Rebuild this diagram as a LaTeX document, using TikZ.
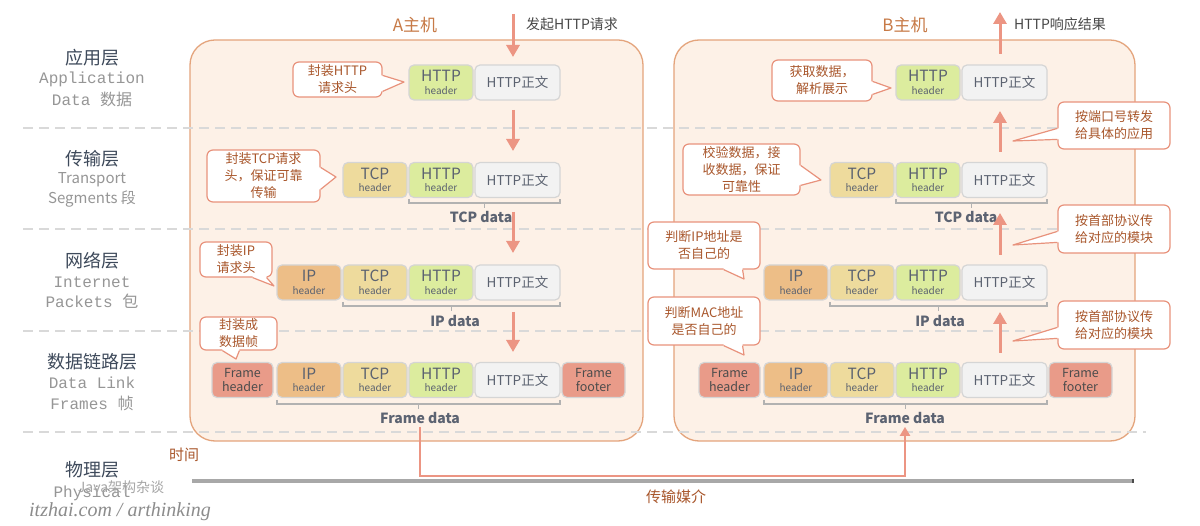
\documentclass[tikz,border=0pt]{standalone}
\usepackage{fontspec}
\setmainfont{Noto Sans CJK SC}
\newfontfamily\monof{Liberation Mono}
\newfontfamily\handf{Liberation Serif}
\usetikzlibrary{arrows.meta,calc}
\definecolor{hostfill}{HTML}{FDF1E7}
\definecolor{hostline}{HTML}{E4A47C}
\definecolor{sepgray}{HTML}{D9D9D9}
\definecolor{arrowc}{HTML}{EC9583}
\definecolor{calline}{HTML}{E8927C}
\definecolor{caltext}{HTML}{A9572C}
\definecolor{httpc}{HTML}{DCEC9E}
\definecolor{tcpc}{HTML}{EEDB9D}
\definecolor{ipc}{HTML}{EDBE87}
\definecolor{framec}{HTML}{E99B89}
\definecolor{bodyc}{HTML}{F2F2F2}
\definecolor{blkline}{HTML}{D5D5D5}
\definecolor{blktext}{HTML}{5B6270}
\definecolor{titlec}{HTML}{C77A47}
\definecolor{layerc}{HTML}{3E4A5B}
\definecolor{engc}{HTML}{969696}
\definecolor{labelc}{HTML}{4A5262}
\definecolor{barc}{HTML}{A8A8A8}
\newcommand\hb[1]{#1\\[-3pt]{\fontsize{10}{10}\selectfont header}}
\newcommand\ptr[5]{%
  \fill[white] ($(#1)+#2+#4$) -- ($(#1)+#2$) -- (#5) -- ($(#1)+#3$) -- ($(#1)+#3+#4$) -- cycle;
  \draw[calline,line width=1.2,line join=round] ($(#1)+#2$) -- (#5) -- ($(#1)+#3$);}
\begin{document}
\begin{tikzpicture}[x=1pt,y=-1pt,
  host/.style={draw=hostline,fill=hostfill,line width=1.3,rounded corners=25,inner sep=0},
  sep/.style={draw=sepgray,line width=2.5,dash pattern=on 10pt off 6pt},
  blk/.style={draw=blkline,line width=1.2,rounded corners=5,minimum height=35,inner sep=0,align=center,text=blktext,font=\fontsize{15.5}{15.5}\selectfont},
  body/.style={blk,fill=bodyc,minimum width=85,font=\fontsize{13.5}{13.5}\selectfont},
  frm/.style={blk,fill=framec,text=black!70,font=\fontsize{12.5}{14.5}\selectfont},
  call/.style={draw=calline,fill=white,line width=1.2,rounded corners=6,align=center,text=caltext,font=\fontsize{13}{17}\selectfont,inner sep=0},
  arr/.style={draw=arrowc,line width=3,-{Triangle[width=13pt,length=12pt]}},
  brc/.style={draw=black!30,line width=1.6},
  dlab/.style={font=\bfseries\fontsize{14}{14}\selectfont,text=labelc!90,inner sep=1},
  lay/.style={font=\fontsize{18}{18}\selectfont,text=layerc},
  engm/.style={font=\monof\fontsize{16}{16}\selectfont,text=engc},
  engs/.style={font=\fontsize{15}{15}\selectfont,text=engc},
  ttl/.style={font=\fontsize{17}{17}\selectfont,text=titlec},
  top/.style={font=\fontsize{14}{14}\selectfont,text=black!72}]
\useasboundingbox (0,0) rectangle (1200,526);
\fill[white] (0,0) rectangle (1200,526);

% hosts
\node[host,minimum width=453,minimum height=401] (hostA) at (416.5,240.5) {};
\node[host,minimum width=461,minimum height=401] (hostB) at (904.5,240.5) {};

% layer separators
\foreach \yy in {128,229,331,432} \draw[sep] (23,\yy) -- (1146,\yy);

% layer labels
\node[lay] (l1) at (92,58) {应用层};
\node[engm] (l1a) at (92,79) {Application};
\node[engm] (l1b) at (92,99) {Data {\rmfamily 数据}};
\node[lay] (l2) at (92,159) {传输层};
\node[engs] (l2a) at (92,180) {Transport};
\node[engs] (l2b) at (92,199) {Segments 段};
\node[lay] (l3) at (92,261) {网络层};
\node[engm] (l3a) at (92,282) {Internet};
\node[engm] (l3b) at (92,301) {Packets {\rmfamily 包}};
\node[lay] (l4) at (92,362) {数据链路层};
\node[engm] (l4a) at (92,383) {Data Link};
\node[engm] (l4b) at (92,403) {Frames {\rmfamily 帧}};
\node[lay] (l5) at (92,470) {物理层};
\node[engm] (l5a) at (92,493) {Physical};
\node[font=\fontsize{14}{14}\selectfont,text=black!35] (wm1) at (121,487) {Java架构杂谈};
\node[font=\handf\itshape\fontsize{20}{20}\selectfont,text=black!45] (wm2) at (120,512) {itzhai.com / arthinking};

% titles
\node[ttl] (tA) at (415,25) {A主机};
\node[ttl] (tB) at (905,25) {B主机};
\node[top] (reqA) at (572,24) {发起HTTP请求};
\node[top] (resB) at (1060,24) {HTTP响应结果};

% ===== host A blocks =====
\node[blk,fill=httpc,minimum width=64] (a1h) at (441,82.5) {\hb{HTTP}};
\node[body] (a1b) at (517.5,82.5) {HTTP正文};

\node[blk,fill=tcpc,minimum width=64] (a2t) at (375,180) {\hb{TCP}};
\node[blk,fill=httpc,minimum width=64] (a2h) at (441,180) {\hb{HTTP}};
\node[body] (a2b) at (517.5,180) {HTTP正文};

\node[blk,fill=ipc,minimum width=64] (a3i) at (309,282.5) {\hb{IP}};
\node[blk,fill=tcpc,minimum width=64] (a3t) at (375,282.5) {\hb{TCP}};
\node[blk,fill=httpc,minimum width=64] (a3h) at (441,282.5) {\hb{HTTP}};
\node[body] (a3b) at (517.5,282.5) {HTTP正文};

\node[frm,minimum width=61] (a4f) at (242.5,380) {Frame\\header};
\node[blk,fill=ipc,minimum width=64] (a4i) at (309,380) {\hb{IP}};
\node[blk,fill=tcpc,minimum width=64] (a4t) at (375,380) {\hb{TCP}};
\node[blk,fill=httpc,minimum width=64] (a4h) at (441,380) {\hb{HTTP}};
\node[body] (a4b) at (517.5,380) {HTTP正文};
\node[frm,minimum width=63] (a4e) at (593.5,380) {Frame\\footer};

% braces A
\draw[brc] (409,199) -- (409,203) -- (560,203) -- (560,199) (484.5,203) -- (484.5,208);
\node[dlab] (tdA) at (481,217) {TCP data};
\draw[brc] (343,302) -- (343,306) -- (560,306) -- (560,302) (451.5,306) -- (451.5,311);
\node[dlab] (idA) at (455,321) {IP data};
\draw[brc] (277,400) -- (277,404) -- (560,404) -- (560,400) (418.5,404) -- (418.5,409);
\node[dlab] (fdA) at (420,418) {Frame data};

% ===== host B blocks =====
\node[blk,fill=httpc,minimum width=64] (b1h) at (928,82.5) {\hb{HTTP}};
\node[body] (b1b) at (1004.5,82.5) {HTTP正文};

\node[blk,fill=tcpc,minimum width=64] (b2t) at (862,180) {\hb{TCP}};
\node[blk,fill=httpc,minimum width=64] (b2h) at (928,180) {\hb{HTTP}};
\node[body] (b2b) at (1004.5,180) {HTTP正文};

\node[blk,fill=ipc,minimum width=64] (b3i) at (796,282.5) {\hb{IP}};
\node[blk,fill=tcpc,minimum width=64] (b3t) at (862,282.5) {\hb{TCP}};
\node[blk,fill=httpc,minimum width=64] (b3h) at (928,282.5) {\hb{HTTP}};
\node[body] (b3b) at (1004.5,282.5) {HTTP正文};

\node[frm,minimum width=61] (b4f) at (729.5,380) {Frame\\header};
\node[blk,fill=ipc,minimum width=64] (b4i) at (796,380) {\hb{IP}};
\node[blk,fill=tcpc,minimum width=64] (b4t) at (862,380) {\hb{TCP}};
\node[blk,fill=httpc,minimum width=64] (b4h) at (928,380) {\hb{HTTP}};
\node[body] (b4b) at (1004.5,380) {HTTP正文};
\node[frm,minimum width=63] (b4e) at (1080.5,380) {Frame\\footer};

% braces B
\draw[brc] (896,199) -- (896,203) -- (1047,203) -- (1047,199) (971.5,203) -- (971.5,208);
\node[dlab] (tdB) at (966,217) {TCP data};
\draw[brc] (830,302) -- (830,306) -- (1047,306) -- (1047,302) (938.5,306) -- (938.5,311);
\node[dlab] (idB) at (940,321) {IP data};
\draw[brc] (764,400) -- (764,404) -- (1047,404) -- (1047,400) (905.5,404) -- (905.5,409);
\node[dlab] (fdB) at (905,418) {Frame data};

% ===== arrows =====
\coordinate (aa0) at (513,14);  \coordinate (aa1) at (513,57);
\coordinate (ab0) at (513,110); \coordinate (ab1) at (513,151);
\coordinate (ac0) at (513,212); \coordinate (ac1) at (513,253);
\coordinate (ad0) at (513,312); \coordinate (ad1) at (513,352);
\draw[arr] (aa0) -- (aa1);
\draw[arr] (ab0) -- (ab1);
\draw[arr] (ac0) -- (ac1);
\draw[arr] (ad0) -- (ad1);
\coordinate (ba0) at (1000,54);  \coordinate (ba1) at (1000,12);
\coordinate (bb0) at (1000,152); \coordinate (bb1) at (1000,111);
\coordinate (bc0) at (1000,255); \coordinate (bc1) at (1000,213);
\coordinate (bd0) at (1000,353); \coordinate (bd1) at (1000,312);
\draw[arr] (ba0) -- (ba1);
\draw[arr] (bb0) -- (bb1);
\draw[arr] (bc0) -- (bc1);
\draw[arr] (bd0) -- (bd1);

% physical medium
\draw[barc,line width=4] (192,481) -- (1133,481);
\draw[black!70,line width=1.5] (1133,479) -- (1133,483);
\coordinate (phy) at (660,476);
\draw[draw=arrowc,line width=2.5,-{Triangle[width=10pt,length=9pt]},shorten <=2pt,shorten >=2pt] (fdA.south) |- (phy) -| (fdB.south);
\node[font=\fontsize{15}{15}\selectfont,text=caltext] (med) at (676,497) {传输媒介};
\node[font=\fontsize{15}{15}\selectfont,text=caltext] (time) at (184,455) {时间};

% ===== callouts A =====
\node[call,minimum width=89,minimum height=35] (cA1) at (337.5,79.5) {封装HTTP\\请求头};
\coordinate (tA1) at (404,82);
\ptr{cA1.north east}{(0,14)}{(0,30)}{(-2.5,0)}{tA1}
\node[call,minimum width=113,minimum height=52] (cA2) at (263.5,176) {封装TCP请求\\头，保证可靠\\传输};
\coordinate (tA2) at (336,177);
\ptr{cA2.north east}{(0,18)}{(0,40)}{(-2.5,0)}{tA2}
\node[call,minimum width=72,minimum height=35] (cA3) at (236,259.5) {封装IP\\请求头};
\coordinate (tA3) at (274,286);
\ptr{cA3.south east}{(-20,0)}{(-6,0)}{(0,-2.5)}{tA3}
\node[call,minimum width=77,minimum height=33] (cA4) at (238.5,333.5) {封装成\\数据帧};
\coordinate (tA4) at (236,359);
\ptr{cA4.south west}{(23,0)}{(40,0)}{(0,-2.5)}{tA4}

% ===== callouts B =====
\node[call,minimum width=100,minimum height=41] (cB1) at (822,80.5) {获取数据，\\解析展示};
\coordinate (tB1) at (891,88);
\ptr{cB1.north east}{(0,22)}{(0,35)}{(-2.5,0)}{tB1}
\node[call,minimum width=112,minimum height=47] (cB2) at (1114,125.5) {按端口号转发\\给具体的应用};
\coordinate (tB2) at (1013,141);
\ptr{cB2.north west}{(0,27)}{(0,38)}{(2.5,0)}{tB2}
\node[call,minimum width=117,minimum height=51] (cB3) at (741.5,169.5) {校验数据，接\\收数据，保证\\可靠性};
\coordinate (tB3) at (821,180);
\ptr{cB3.north east}{(0,22)}{(0,42)}{(-2.5,0)}{tB3}
\node[call,minimum width=112,minimum height=48] (cB4) at (1114,229) {按首部协议传\\给对应的模块};
\coordinate (tB4) at (1013,245);
\ptr{cB4.north west}{(0,27)}{(0,38)}{(2.5,0)}{tB4}
\node[call,minimum width=112,minimum height=47] (cB5) at (704,245.5) {判断IP地址是\\否自己的};
\coordinate (tB5) at (744,279);
\ptr{cB5.south east}{(-37,0)}{(-18,0)}{(0,-2.5)}{tB5}
\node[call,minimum width=112,minimum height=48] (cB6) at (704,321) {判断MAC地址\\是否自己的};
\coordinate (tB6) at (744,355);
\ptr{cB6.south east}{(-37,0)}{(-18,0)}{(0,-2.5)}{tB6}
\node[call,minimum width=112,minimum height=48] (cB7) at (1114,325) {按首部协议传\\给对应的模块};
\coordinate (tB7) at (1013,341);
\ptr{cB7.north west}{(0,27)}{(0,38)}{(2.5,0)}{tB7}
\end{tikzpicture}
\end{document}
